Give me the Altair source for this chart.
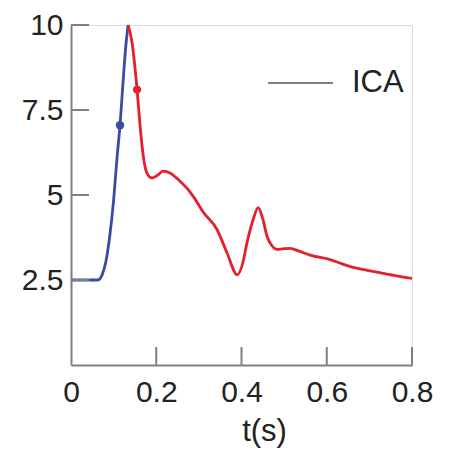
import altair as alt
import pandas as pd

# Blue segment (rise up to the peak)
blue_t = [0.0, 0.03, 0.063, 0.073, 0.082, 0.090, 0.100, 0.108, 0.115, 0.122, 0.128, 0.134]
blue_v = [2.5, 2.5, 2.5, 2.65, 3.05, 3.7, 4.85, 6.1, 7.05, 8.3, 9.3, 10.0]

# Red segment (peak onward)
red_t = [0.134, 0.143, 0.155, 0.162, 0.169, 0.178, 0.190, 0.203, 0.216, 0.232, 0.252,
         0.272, 0.290, 0.310, 0.342, 0.366, 0.390, 0.403, 0.413, 0.428, 0.439, 0.450,
         0.460, 0.472, 0.483, 0.500, 0.514, 0.535, 0.561, 0.608, 0.635, 0.662, 0.690,
         0.718, 0.760, 0.800]
red_v = [10.0, 9.5, 8.1, 7.05, 6.2, 5.65, 5.5, 5.58, 5.7, 5.65, 5.45,
         5.2, 4.9, 4.5, 4.0, 3.3, 2.65, 3.0, 3.6, 4.3, 4.63, 4.3,
         3.78, 3.5, 3.4, 3.42, 3.43, 3.35, 3.23, 3.1, 2.98, 2.87, 2.8,
         2.73, 2.63, 2.55]

# Marker points
blue_pt_t = [0.115]
blue_pt_v = [7.05]
red_pt_t = [0.155]
red_pt_v = [8.1]

x_ticks = [0, 0.2, 0.4, 0.6, 0.8]
y_ticks = [2.5, 5, 7.5, 10]
legend_label = ["ICA"]

BLUE = "#3b4ba3"
RED = "#e3202d"
AXIS = "#808080"
TXT = "#222222"
FONT = "Liberation Sans"
W, H = 341, 340

blue_df = pd.DataFrame({"t": blue_t, "v": blue_v})
red_df = pd.DataFrame({"t": red_t, "v": red_v})
bpt = pd.DataFrame({"t": blue_pt_t, "v": blue_pt_v})
rpt = pd.DataFrame({"t": red_pt_t, "v": red_pt_v})

xs = alt.Scale(domain=[0, 0.8], nice=False)
ys = alt.Scale(domain=[0, 10], nice=False)

x_axis = alt.Axis(values=x_ticks, format=".1~f", ticks=False, tickSize=0, grid=False,
                  labelFontSize=30, labelFont=FONT, labelColor=TXT, labelPadding=12,
                  domainColor=AXIS, domainWidth=2,
                  title="t(s)", titleFont=FONT, titleFontSize=31, titleFontWeight="normal",
                  titleColor=TXT, titleX=193, titleY=75, titleAlign="center",
                  titleBaseline="alphabetic", labelFlush=False)
y_axis = alt.Axis(values=y_ticks, format=".1~f", ticks=False, tickSize=0, grid=False,
                  labelFontSize=30, labelFont=FONT, labelColor=TXT, labelPadding=8,
                  domainColor=AXIS, domainWidth=2, title=None, labelFlush=False)

blue_line = alt.Chart(blue_df).mark_line(color=BLUE, strokeWidth=2.8, interpolate="monotone").encode(
    x=alt.X("t:Q", scale=xs, axis=x_axis),
    y=alt.Y("v:Q", scale=ys, axis=y_axis),
)
red_line = alt.Chart(red_df).mark_line(color=RED, strokeWidth=2.8, interpolate="monotone").encode(
    x=alt.X("t:Q", scale=xs), y=alt.Y("v:Q", scale=ys)
)
blue_point = alt.Chart(bpt).mark_point(filled=True, color=BLUE, size=70, opacity=1).encode(
    x=alt.X("t:Q", scale=xs), y=alt.Y("v:Q", scale=ys)
)
red_point = alt.Chart(rpt).mark_point(filled=True, color=RED, size=70, opacity=1).encode(
    x=alt.X("t:Q", scale=xs), y=alt.Y("v:Q", scale=ys)
)

# inward ticks
xt = alt.Chart(pd.DataFrame({"t": x_ticks[1:]})).mark_rule(color=AXIS, strokeWidth=2).encode(
    x=alt.X("t:Q", scale=xs), y=alt.value(H), y2=alt.value(H - 18)
)
yt = alt.Chart(pd.DataFrame({"v": y_ticks})).mark_rule(color=AXIS, strokeWidth=2).encode(
    y=alt.Y("v:Q", scale=ys), x=alt.value(0), x2=alt.value(18)
)

# legend
leg_df = pd.DataFrame({"label": legend_label})
leg_line = alt.Chart(leg_df).mark_rule(color=AXIS, strokeWidth=2).encode(
    x=alt.value(197), x2=alt.value(262), y=alt.value(58)
)
leg_text = alt.Chart(leg_df).mark_text(align="left", baseline="middle", fontSize=31,
                                       font=FONT, color=TXT).encode(
    x=alt.value(281), y=alt.value(58), text="label:N"
)

chart = alt.layer(blue_line, red_line, blue_point, red_point, xt, yt, leg_line, leg_text).properties(
    width=W, height=H,
    autosize=alt.AutoSizeParams(type="none"),
    padding={"left": 63, "top": 17, "right": 25, "bottom": 85},
).configure_view(stroke=None).configure(background="white")

chart.save("out.html", embed_options={"renderer": "svg", "actions": False})
